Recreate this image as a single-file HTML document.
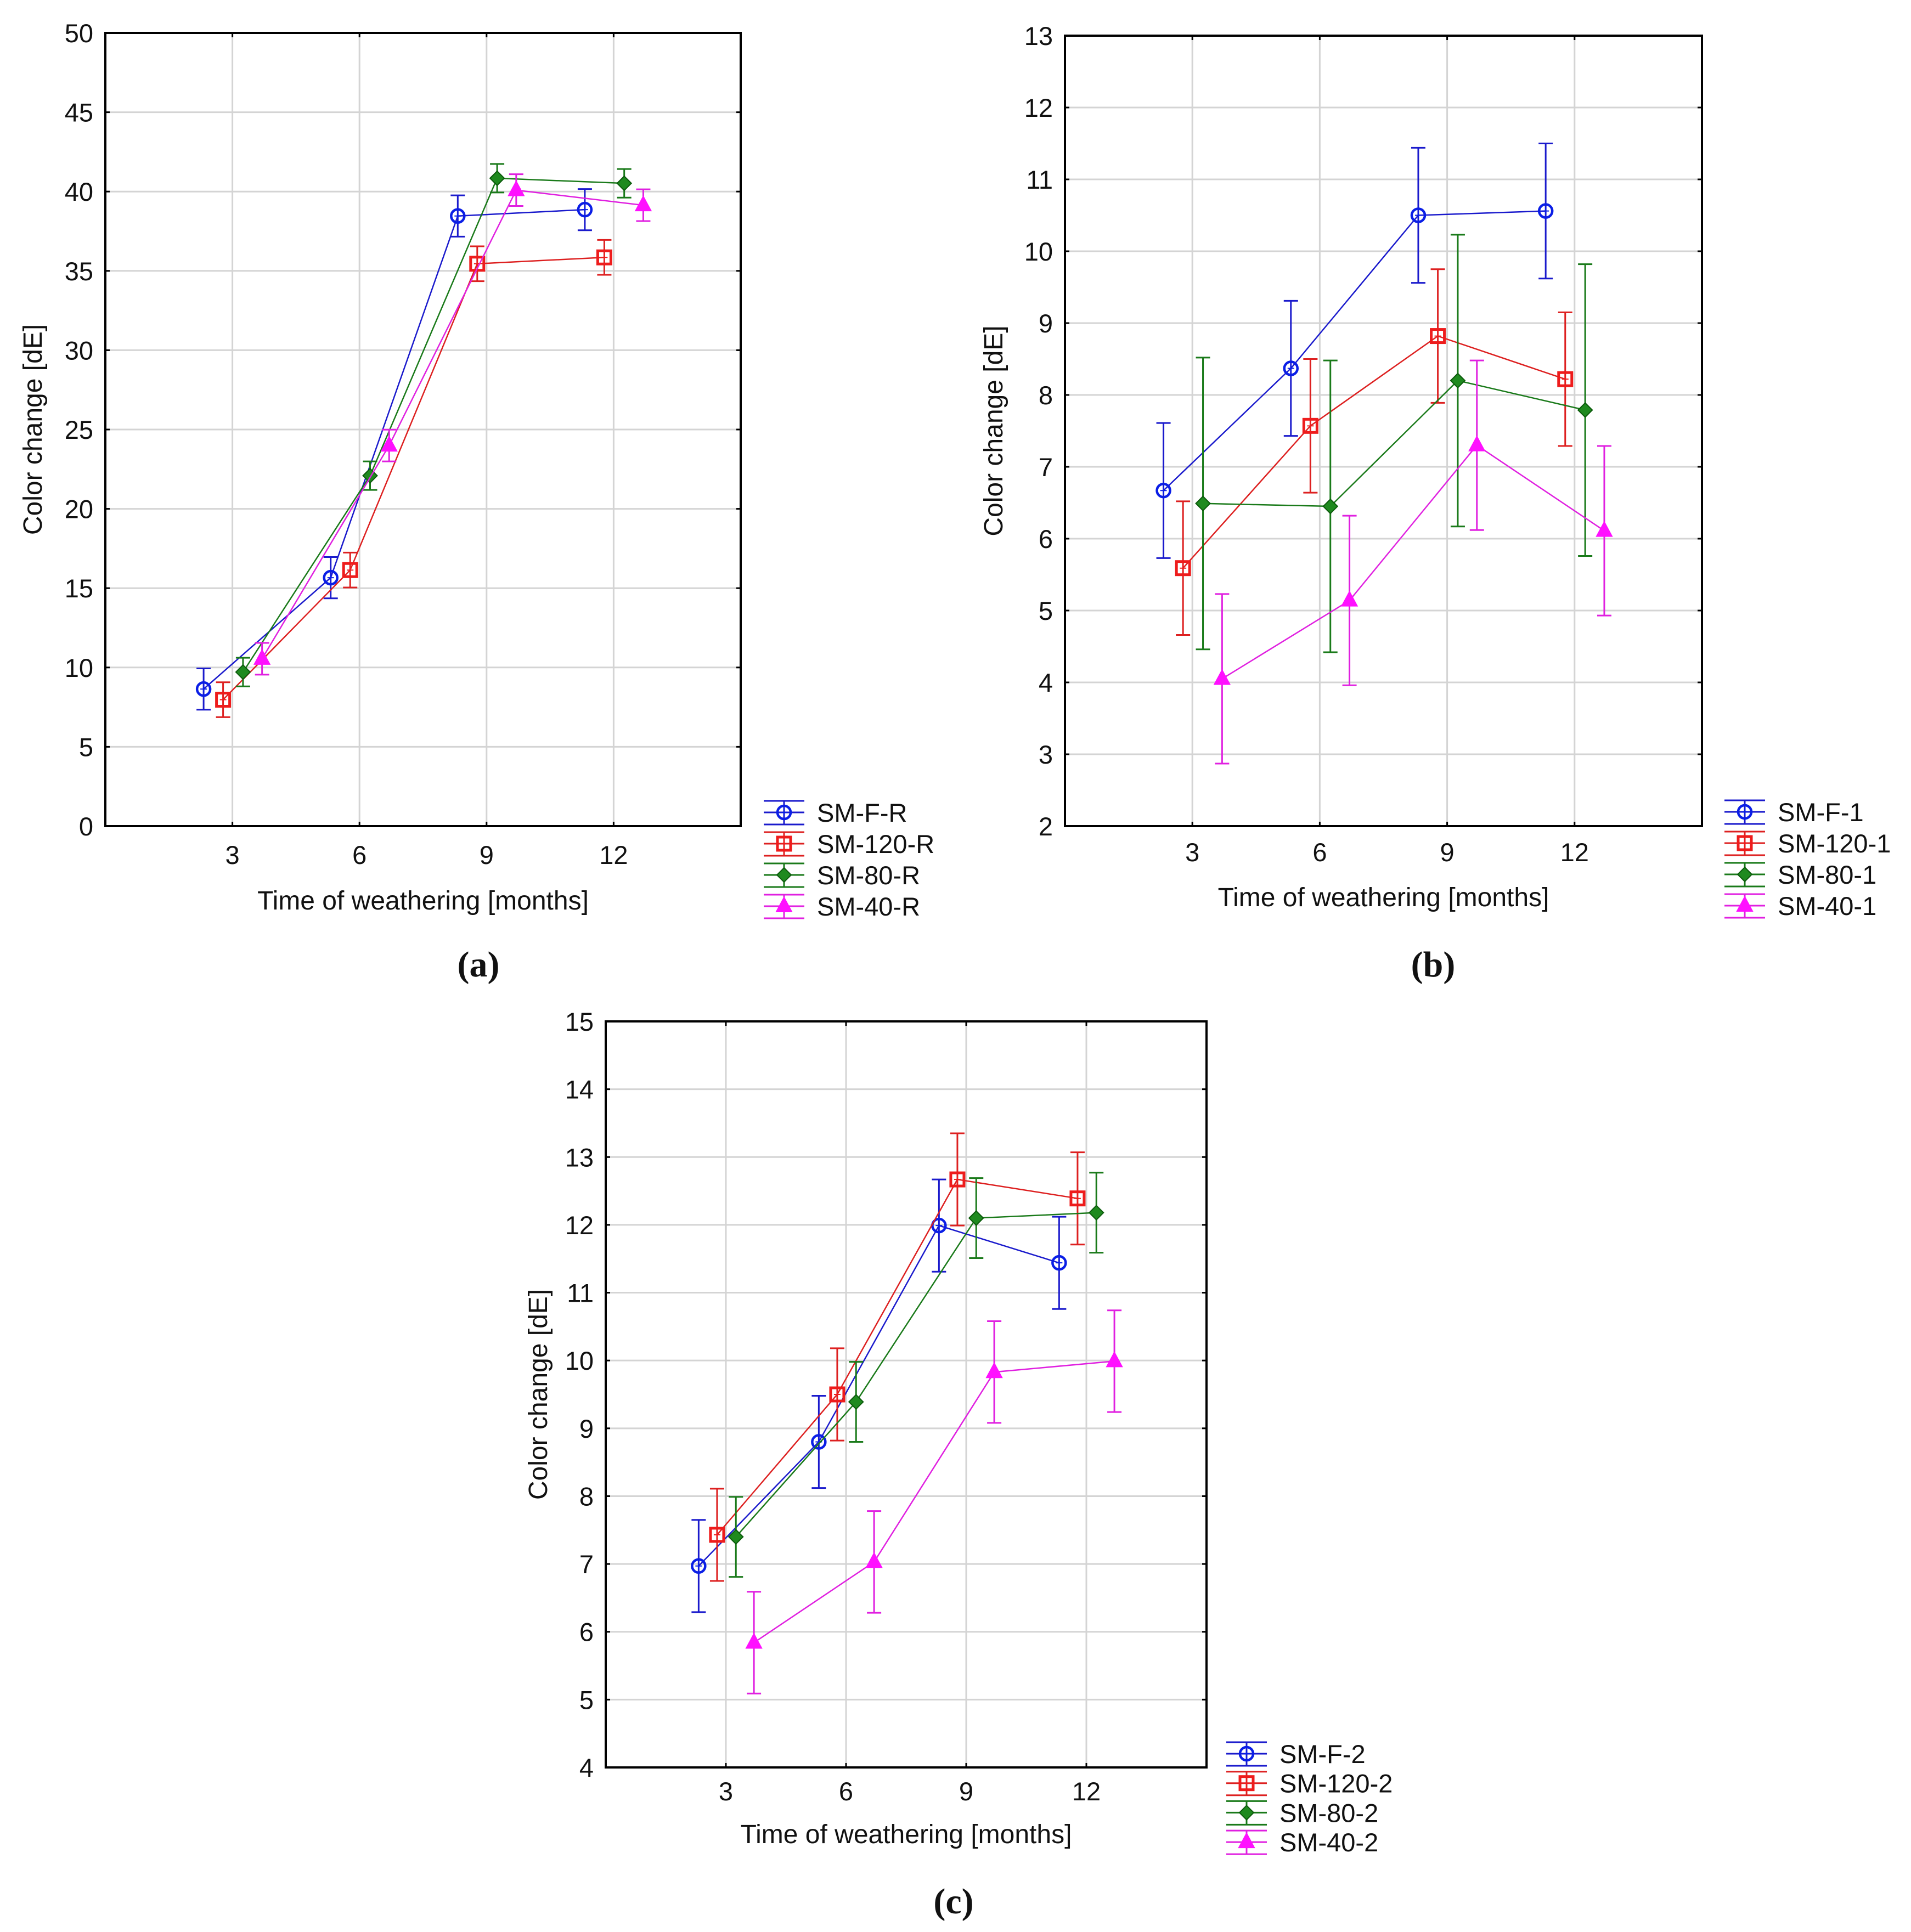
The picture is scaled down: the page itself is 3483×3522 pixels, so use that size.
<!DOCTYPE html>
<html><head><meta charset="utf-8"><style>
html,body{margin:0;padding:0;background:#fff}
svg{display:block}
text{font-family:"Liberation Sans",sans-serif;fill:#111}
</style></head><body>
<svg id="fig" xmlns="http://www.w3.org/2000/svg" width="3483" height="3522" viewBox="0 0 3483 3522"></svg>
<script>
// ---- data ----
const months = [3, 6, 9, 12];
const seriesOffsets = [-0.68, -0.22, 0.25, 0.7];
const seriesColors = ["#0a1ee6", "#ee1c1c", "#1f8a1f", "#ff10ff"];
const seriesLineColors = ["#1a1acc", "#dd2020", "#1a7a1a", "#e020e0"];
const seriesMarkers = ["circle", "square", "diamond", "triangle"];

const namesA = ["SM-F-R", "SM-120-R", "SM-80-R", "SM-40-R"];
const aF = [8.64, 15.66, 38.46, 38.86];
const a120 = [7.97, 16.14, 35.45, 35.85];
const a80 = [9.71, 22.09, 40.84, 40.52];
const a40 = [10.55, 23.99, 40.09, 39.14];
const aErr = [1.3, 1.1, 0.9, 1.0];
const ticksA = [0, 5, 10, 15, 20, 25, 30, 35, 40, 45, 50];

const namesB = ["SM-F-1", "SM-120-1", "SM-80-1", "SM-40-1"];
const bF = [6.67, 8.37, 10.50, 10.56];
const b120 = [5.59, 7.57, 8.82, 8.22];
const b80 = [6.49, 6.45, 8.20, 7.79];
const b40 = [4.05, 5.14, 7.30, 6.11];
const bErr = [0.94, 0.93, 2.03, 1.18];
const ticksB = [2, 3, 4, 5, 6, 7, 8, 9, 10, 11, 12, 13];

const namesC = ["SM-F-2", "SM-120-2", "SM-80-2", "SM-40-2"];
const cF = [6.97, 8.80, 11.99, 11.44];
const c120 = [7.43, 9.50, 12.67, 12.39];
const c80 = [7.40, 9.39, 12.10, 12.18];
const c40 = [5.84, 7.03, 9.83, 9.99];
const cErr = [0.68, 0.68, 0.59, 0.75];
const ticksC = [4, 5, 6, 7, 8, 9, 10, 11, 12, 13, 14, 15];

const NS = "http://www.w3.org/2000/svg";
const svg = document.getElementById('fig');
function mk(tag, attrs, parent) {
  const e = document.createElementNS(NS, tag);
  for (const k in attrs) e.setAttribute(k, attrs[k]);
  (parent || svg).appendChild(e);
  return e;
}

function marker(g, type, cx, cy, col) {
  let m;
  if (type === "circle") {
    m = mk('circle', {cx: cx, cy: cy, r: 12, fill: "none", stroke: col, 'stroke-width': 4.5}, g);
    mk('path', {d: `M${cx-6} ${cy}H${cx+6}M${cx} ${cy-6}V${cy+6}`, stroke: col, 'stroke-width': 2}, g);
  } else if (type === "square") {
    m = mk('rect', {x: cx-12, y: cy-12, width: 24, height: 24, fill: "none", stroke: col, 'stroke-width': 5}, g);
    mk('path', {d: `M${cx-6} ${cy}H${cx+6}M${cx} ${cy-6}V${cy+6}`, stroke: col, 'stroke-width': 2}, g);
  } else if (type === "diamond") {
    m = mk('path', {d: `M${cx} ${cy-13}L${cx+13} ${cy}L${cx} ${cy+13}L${cx-13} ${cy}Z`, fill: col, stroke: "#0b5a0b", 'stroke-width': 2}, g);
  } else {
    m = mk('path', {d: `M${cx} ${cy-16}L${cx+14} ${cy+10}L${cx-14} ${cy+10}Z`, fill: col, stroke: col, 'stroke-width': 2}, g);
  }
  return m;
}

function panel(id, box, yMin, yMax, ticks, series, errs, names, labels) {
  const {x0, x1, y0, y1} = box;
  const xs = v => x0 + (v - 0) / 15 * (x1 - x0);
  const ys = v => y1 - (v - yMin) / (yMax - yMin) * (y1 - y0);
  const g = mk('g', {});
  
  
  const grid = mk('g', {}, g);
  
  
  ticks.forEach(t => {
    if (t === yMin || t === yMax) return;
    mk('line', {x1: x0, x2: x1, y1: ys(t), y2: ys(t), stroke: "#d4d4d4", 'stroke-width': 3}, grid);
    mk('line', {x1: x0, x2: x0+8, y1: ys(t), y2: ys(t), stroke: "#000", 'stroke-width': 3}, grid);
    mk('line', {x1: x1-8, x2: x1, y1: ys(t), y2: ys(t), stroke: "#000", 'stroke-width': 3}, grid);
  });
  months.forEach(m => {
    mk('line', {x1: xs(m), x2: xs(m), y1: y0, y2: y1, stroke: "#d4d4d4", 'stroke-width': 3}, grid);
    mk('line', {x1: xs(m), x2: xs(m), y1: y1-8, y2: y1, stroke: "#000", 'stroke-width': 3}, grid);
    mk('line', {x1: xs(m), x2: xs(m), y1: y0, y2: y0+8, stroke: "#000", 'stroke-width': 3}, grid);
  });
  const fr = mk('rect', {x: x0, y: y0, width: x1-x0, height: y1-y0, fill: "none", stroke: "#000", 'stroke-width': 4}, g);
  
  
  ticks.forEach(t => {
    const tx = mk('text', {x: x0 - 22, y: ys(t) + 17, 'text-anchor': 'end', 'font-size': 47}, g);
    tx.textContent = t;
    
    
  });
  months.forEach(m => {
    const tx = mk('text', {x: xs(m), y: labels.xtY, 'text-anchor': 'middle', 'font-size': 47}, g);
    tx.textContent = m;
    
    
  });
  const xt = mk('text', {x: (x0 + x1) / 2, y: labels.xTitleY, 'text-anchor': 'middle', 'font-size': 48}, g);
  xt.textContent = "Time of weathering [months]";
  
  
  const yt = mk('text', {x: 0, y: 0, 'text-anchor': 'middle', 'font-size': 48, transform: `translate(${labels.yTitleX},${(y0+y1)/2}) rotate(-90)`}, g);
  yt.textContent = "Color change [dE]";
  
  
  series.forEach((vals, si) => {
    const sg = mk('g', {}, g);
    
    
    const pts = vals.map((v, i) => [xs(months[i] + seriesOffsets[si]), ys(v)]);
    const ln = mk('polyline', {points: pts.map(p => p.join(',')).join(' '), fill: "none", stroke: seriesLineColors[si], 'stroke-width': 2.5}, sg);
    
    
    vals.forEach((v, i) => {
      const cx = pts[i][0];
      const e = errs[si];
      const eb = mk('path', {d: `M${cx} ${ys(v+e)}V${ys(v-e)}M${cx-13} ${ys(v+e)}H${cx+13}M${cx-13} ${ys(v-e)}H${cx+13}`, stroke: seriesLineColors[si], 'stroke-width': 3, fill: "none"}, sg);
      
      
      const m = marker(sg, seriesMarkers[si], cx, ys(v), seriesColors[si]);
      
      
    });
  });
  const lg = mk('g', {}, g);
  
  
  names.forEach((n, si) => {
    const cy = labels.legY + si * labels.legStep;
    const cx = labels.legX;
    const it = mk('g', {}, lg);
    
    
    mk('path', {d: `M${cx-37} ${cy-21}H${cx+37}M${cx-37} ${cy}H${cx+37}M${cx-37} ${cy+22}H${cx+37}M${cx} ${cy-21}V${cy+22}`, stroke: seriesLineColors[si], 'stroke-width': 3, fill: "none"}, it);
    marker(it, seriesMarkers[si], cx, cy, seriesColors[si]);
    const t = mk('text', {x: cx + 60, y: cy + 17, 'font-size': 47}, it);
    t.textContent = n;
  });
  const pl = mk('text', {x: labels.pX, y: labels.pY, 'text-anchor': 'middle', 'font-size': 66, 'font-weight': 'bold', style: 'font-family:"Liberation Serif",serif'}, g);
  pl.textContent = labels.p;
  
  
}

panel('a', {x0: 192, x1: 1350, y0: 60, y1: 1506}, 0, 50, ticksA, [aF, a120, a80, a40], aErr, namesA,
  {xtY: 1575, xTitleY: 1658, yTitleX: 76, legX: 1429, legY: 1481, legStep: 57, pX: 872, pY: 1780, p: "(a)"});
panel('b', {x0: 1941, x1: 3102, y0: 65, y1: 1506}, 2, 13, ticksB, [bF, b120, b80, b40], bErr, namesB,
  {xtY: 1570, xTitleY: 1652, yTitleX: 1827, legX: 3180, legY: 1480, legStep: 57, pX: 2612, pY: 1780, p: "(b)"});
panel('c', {x0: 1104, x1: 2199, y0: 1862, y1: 3222}, 4, 15, ticksC, [cF, c120, c80, c40], cErr, namesC,
  {xtY: 3282, xTitleY: 3360, yTitleX: 997, legX: 2272, legY: 3197, legStep: 53.7, pX: 1738, pY: 3488, p: "(c)"});
</script>
</body></html>
